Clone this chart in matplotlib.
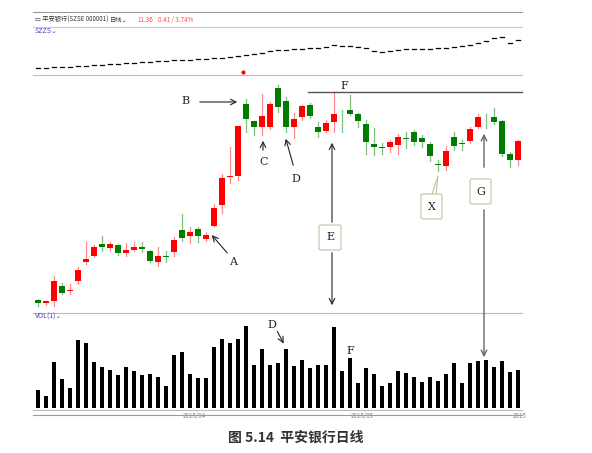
import numpy as np
import matplotlib
matplotlib.use("Agg")
from matplotlib import pyplot as plt
from matplotlib.patches import FancyBboxPatch

plt.rcParams['font.family'] = ['Noto Sans CJK SC', 'DejaVu Sans']

# daily OHLC, 平安银行
opens = [10.97, 10.87, 10.95, 11.36, 11.21, 11.51, 12.05, 12.21, 12.54, 12.42,
         12.51, 12.29, 12.38, 12.47, 12.35, 12.03, 12.21, 12.31, 12.93, 12.77,
         12.98, 12.68, 13.04, 13.63, 14.43, 14.47, 16.48, 16.02, 15.83, 15.85,
         16.95, 16.58, 15.83, 16.11, 16.46, 15.83, 15.74, 15.97, 16.16, 16.32,
         16.21, 15.93, 15.37, 15.27, 15.27, 15.34, 15.53, 15.71, 15.53, 15.36,
         14.79, 14.75, 15.55, 15.39, 15.45, 15.85, 16.13, 16.11, 16.01, 15.09, 14.92]
closes = [10.88, 10.93, 11.49, 11.17, 11.26, 11.82, 12.12, 12.45, 12.45, 12.54,
          12.29, 12.37, 12.47, 12.40, 12.06, 12.21, 12.19, 12.65, 12.71, 12.87,
          12.76, 12.79, 13.55, 14.41, 14.47, 15.88, 16.06, 15.83, 16.15, 16.48,
          16.41, 15.83, 16.06, 16.44, 16.16, 15.69, 15.95, 16.21, 16.14, 16.21,
          16.02, 15.41, 15.27, 15.24, 15.41, 15.55, 15.51, 15.43, 15.43, 15.01,
          14.77, 15.16, 15.31, 15.37, 15.79, 16.11, 16.11, 15.97, 15.09, 14.92, 15.45]
highs = [11.00, 10.95, 11.63, 11.45, 11.42, 11.89, 12.61, 12.52, 12.77, 12.61,
         12.54, 12.56, 12.59, 12.59, 12.38, 12.45, 12.35, 12.73, 13.38, 13.03,
         13.03, 12.87, 13.66, 14.53, 15.29, 15.88, 16.62, 16.02, 16.76, 16.55,
         17.02, 16.69, 16.23, 16.46, 16.51, 15.99, 16.04, 16.83, 16.32, 16.74,
         16.23, 16.04, 15.81, 15.39, 15.48, 15.65, 15.71, 15.76, 15.62, 15.43,
         14.92, 15.31, 15.69, 15.48, 15.83, 16.21, 16.20, 16.39, 16.04, 15.13, 15.48]
lows = [10.81, 10.83, 10.81, 11.14, 11.14, 11.42, 11.98, 12.17, 12.35, 12.35,
        12.23, 12.21, 12.35, 12.31, 12.03, 11.92, 12.03, 12.21, 12.63, 12.56,
        12.61, 12.63, 13.04, 13.43, 14.27, 14.36, 15.69, 15.62, 15.62, 15.78,
        16.27, 15.69, 15.53, 16.04, 16.09, 15.57, 15.71, 15.71, 15.71, 16.18,
        15.85, 15.09, 15.06, 15.09, 15.15, 15.09, 15.25, 15.32, 15.29, 14.87,
        14.59, 14.64, 15.20, 15.20, 15.39, 15.81, 15.81, 15.93, 15.01, 14.71, 14.78]
volume = [53, 36, 136, 87, 58, 203, 195, 137, 121, 113, 98, 121, 111, 97, 100, 92,
          66, 158, 168, 102, 88, 90, 182, 205, 195, 205, 246, 128, 175, 128, 135,
          177, 125, 142, 119, 127, 127, 243, 111, 148, 74, 119, 101, 65, 73, 109,
          104, 91, 76, 91, 80, 100, 134, 74, 135, 140, 142, 121, 140, 106, 112]
szzs = [10200, 10200, 10300, 10300, 10300, 10400, 10400, 10500, 10500, 10600,
        10600, 10700, 10700, 10800, 10800, 10900, 10900, 11000, 11000, 11000,
        11100, 11100, 11200, 11200, 11300, 11400, 11500, 11600, 11700, 11900,
        12000, 12000, 12100, 12100, 12200, 12200, 12300, 12500, 12400, 12400,
        12300, 12200, 11900, 11800, 11900, 12000, 12100, 12100, 12100, 12100,
        12200, 12200, 12300, 12400, 12500, 12700, 12900, 13200, 13300, 12700, 13000]
date_ticks = [19.5, 40.5, 60.2]
date_labels = ["2015/04", "2015/05", "2015"]

W, H = 592, 453
RED, GREEN = "#ff0000", "#007d00"
RED_W, GREEN_W = "#ff8a8a", "#7fc27f"
fig = plt.figure(figsize=(W / 100, H / 100), dpi=100)


def box(l, t, r, b):
    return [l / W, 1 - b / H, (r - l) / W, (b - t) / H]


x = np.arange(len(opens))
XL = (-1, 60.5)

# index panel
ax0 = fig.add_axes(box(30, 35, 522, 75))
for i, v in enumerate(szzs):
    ax0.plot([i - 0.3, i + 0.3], [v, v], color="black", lw=0.9)
    ax0.plot([i, i], [v - 40, v + 40], color="black", lw=0.6)
ax0.plot([25.6], [9800], "o", color="red", ms=2)
ax0.set_xlim(XL)
ax0.set_ylim(9500, 13500)
ax0.axis("off")

# price panel
ax1 = fig.add_axes(box(30, 77, 522, 313))
for i in x:
    up = closes[i] >= opens[i]
    c, cw = (RED, RED_W) if up else (GREEN, GREEN_W)
    ax1.plot([i, i], [lows[i], highs[i]], color=cw, lw=0.9, zorder=1)
    lo, hi = min(opens[i], closes[i]), max(opens[i], closes[i])
    hgt = max(hi - lo, 0.025)
    ax1.bar(i, hgt, bottom=lo, width=0.75, color=c, zorder=2)
ax1.set_xlim(XL)
ax1.set_ylim(10.6, 17.25)
ax1.axis("off")

# volume panel
ax2 = fig.add_axes(box(30, 313, 522, 410))
ax2.bar(x, volume, width=0.42, color="black")
ax2.set_xlim(XL)
ax2.set_ylim(-7, 284)
ax2.axis("off")
for t, lab in zip(date_ticks, date_labels):
    ax2.text(t, -12, lab, fontsize=4.5, color="#888888", ha="center", va="top")

# overlay in pixel coordinates for frame lines and annotations
ov = fig.add_axes([0, 0, 1, 1], zorder=10)
ov.set_xlim(0, W)
ov.set_ylim(H, 0)
ov.axis("off")
for yy, col in [(12, "#999999"), (27, "#cccccc"), (75, "#bbbbbb"), (313, "#bbbbbb"),
                (410, "#bbbbbb"), (415, "#999999")]:
    ov.plot([33, 522], [yy, yy], color=col, lw=0.8)

ov.text(35, 20, "▭ 平安银行(SZSE 000001)", fontsize=4.5, color="#333333", va="center")
ov.text(110, 20, "日线⌄", fontsize=4.5, color="#333333", va="center")
ov.text(137, 20, "11.36", fontsize=4.5, color="#ff4444", va="center")
ov.text(158, 20, "0.41 / 3.74%", fontsize=4.5, color="#ff4444", va="center")
ov.text(35, 31, "SZZS⌄", fontsize=5, color="#4444cc", va="center")
ov.text(35, 317, "VOL(1)⌄", fontsize=5, color="#4444cc", va="center")

ak = dict(arrowstyle="->", color="#222222", lw=0.8)
sf = dict(fontsize=8, family="DejaVu Serif", color="#222222", ha="center", va="center")
ov.annotate("", xy=(240, 102), xytext=(197, 102), arrowprops=ak)
ov.text(185, 101, "B", **sf)
ov.annotate("", xy=(263, 138), xytext=(263, 153), arrowprops=ak)
ov.text(264, 162, "C", **sf)
ov.annotate("", xy=(210, 233), xytext=(229, 255), arrowprops=ak)
ov.text(233, 262, "A", **sf)
ov.annotate("", xy=(285, 136), xytext=(294, 168), arrowprops=ak)
ov.text(296, 179, "D", **sf)
ov.plot([308, 522], [92, 92], color="#555555", lw=1)
ov.text(344, 86, "F", **sf)

bp = dict(boxstyle="round,pad=0,rounding_size=2", fc="white", ec="#c8bfa0", lw=0.8)
ov.add_patch(FancyBboxPatch((319, 225), 22, 25, **bp))
ov.text(330, 237, "E", **sf)
ov.annotate("", xy=(332, 140), xytext=(332, 225), arrowprops=ak)
ov.annotate("", xy=(332, 308), xytext=(332, 250), arrowprops=ak)
ov.add_patch(FancyBboxPatch((421, 194), 21, 25, **bp))
ov.text(432, 207, "X", **sf)
ov.plot([436, 438, 432], [194, 176, 194], color="#c8bfa0", lw=0.8)
ov.add_patch(FancyBboxPatch((470, 179), 21, 25, **bp))
ov.text(481, 192, "G", **sf)
ov.annotate("", xy=(484, 131), xytext=(484, 170), arrowprops=dict(arrowstyle="->", color="#666666", lw=1))
ov.annotate("", xy=(484, 360), xytext=(484, 207), arrowprops=dict(arrowstyle="->", color="#666666", lw=1))
ov.annotate("", xy=(285, 346), xytext=(276, 329), arrowprops=ak)
ov.text(272, 325, "D", **sf)
ov.text(350, 351, "F", **sf)

ov.text(296, 438, "图 5.14  平安银行日线", fontsize=10, fontweight="bold", color="#333333",
        ha="center", va="center")

fig.savefig("out.png", dpi=100)
